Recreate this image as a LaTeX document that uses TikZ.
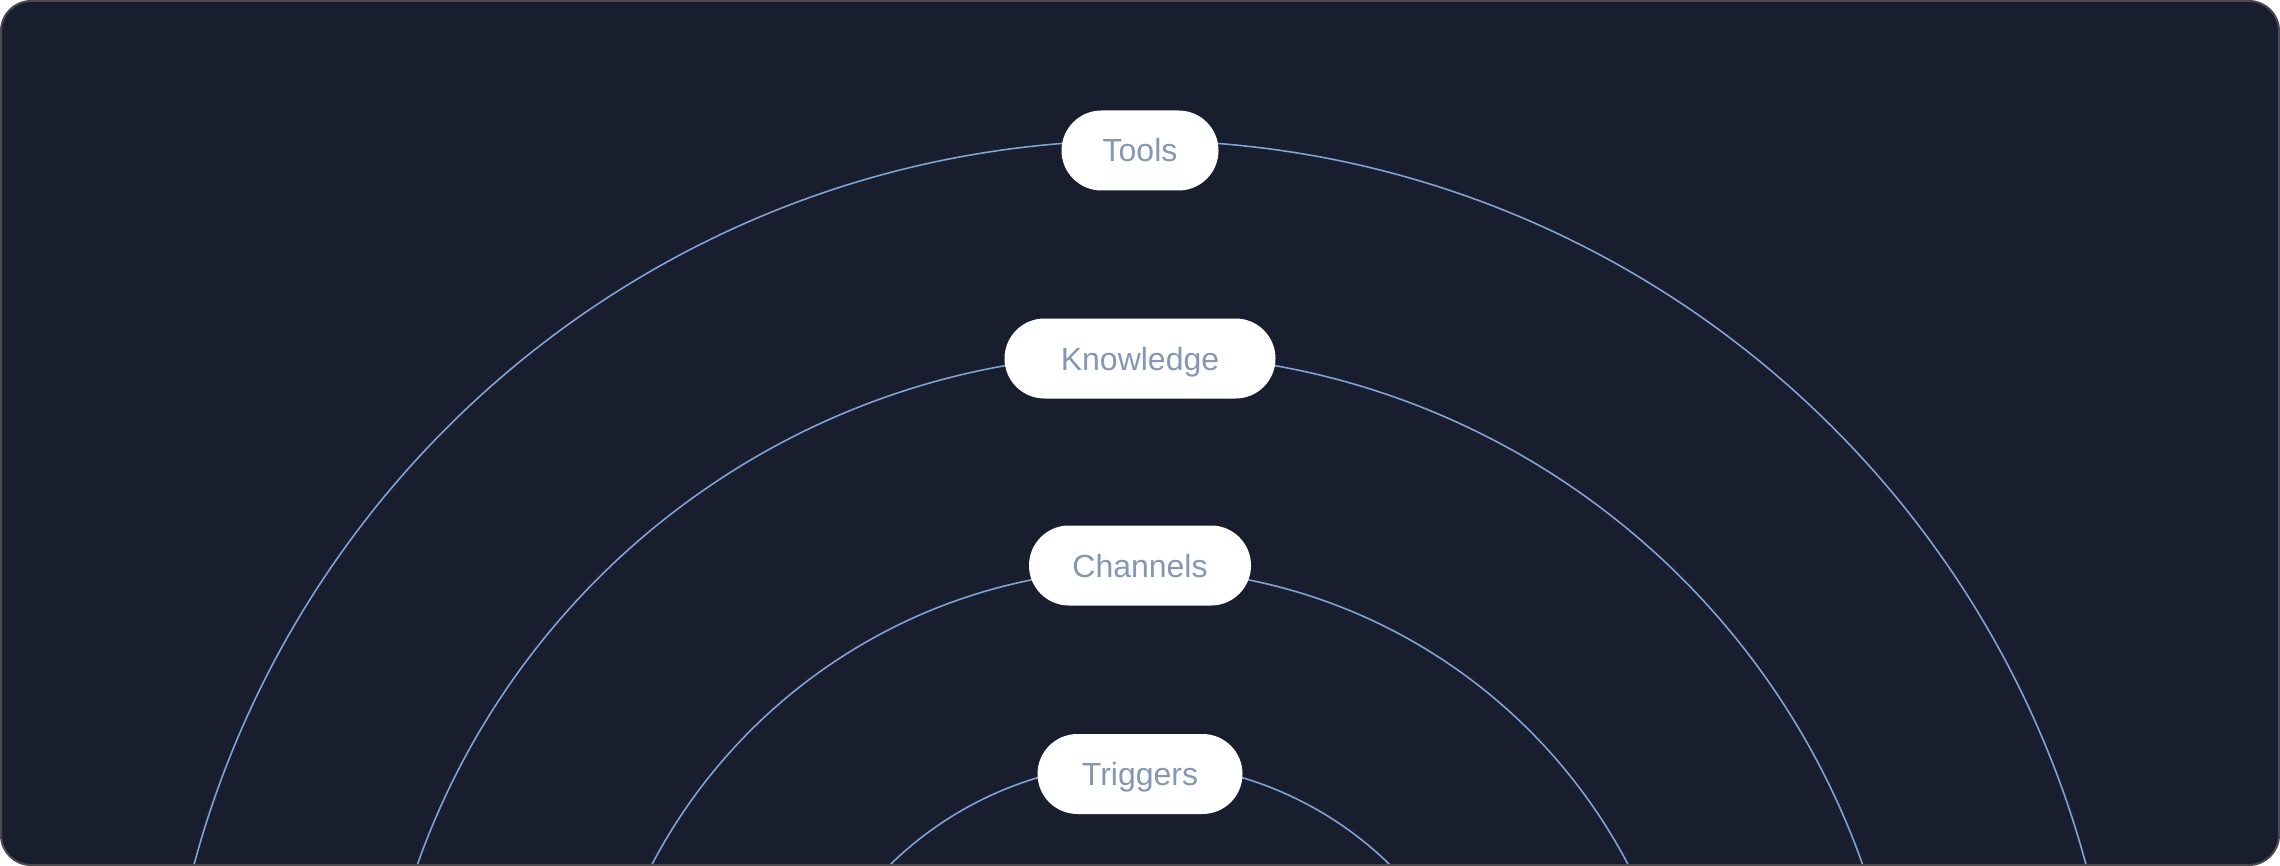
\documentclass[tikz,border=0pt]{standalone}
\usepackage{fontspec}
\setmainfont{Liberation Sans}
\definecolor{nightbg}{HTML}{191E2F}
\definecolor{frameline}{HTML}{4A4A4F}
\definecolor{ringline}{HTML}{7FA3D4}
\definecolor{labeltext}{HTML}{8497B5}
\tikzset{
  pill/.style={shape=rectangle, rounded corners=20pt, fill=white, text=labeltext,
    minimum height=40pt, inner sep=0pt, text height=11.5pt, text depth=0pt,
    font=\fontsize{16}{19}\selectfont},
  ring/.style={draw=ringline, line width=0.8pt}
}

\begin{document}
\begin{tikzpicture}[x=0.5pt,y=-0.5pt]
%[inner sep=1mm]
\useasboundingbox (0,0) rectangle (2280,866);
\fill[white] (0,0) rectangle (2280,866);
\fill[nightbg, rounded corners=15pt] (1,1) rectangle (2279,865);

\path (1140,1120) coordinate (hub);
\begin{scope}
\clip[rounded corners=15pt] (1,1) rectangle (2279,865);
\foreach \r in {489.8,383.1,275.4,178.6}
  \draw[ring] (hub) circle [radius=\r pt];
\end{scope}
\draw[frameline, line width=1pt, rounded corners=15pt] (1,1) rectangle (2279,865);

\path (1140,150.5) node (tools) [pill, minimum width=78.5pt] {Tools};
\path (1140,358.5) node (knowledge) [pill, minimum width=135.5pt] {Knowledge};
\path (1140,565.5) node (channels) [pill, minimum width=111pt] {Channels};
\path (1140,774) node (triggers) [pill, minimum width=102.5pt] {Triggers};

\end{tikzpicture}
\end{document}
